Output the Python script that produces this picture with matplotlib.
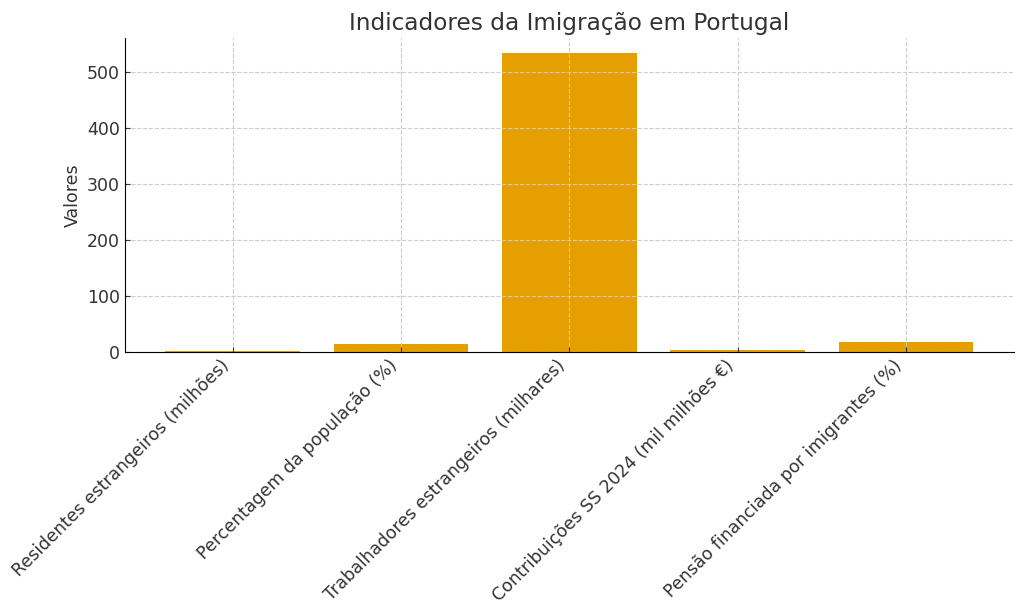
import matplotlib.pyplot as plt

categorias = [
    'Residentes estrangeiros (milhões)',
    'Percentagem da população (%)',
    'Trabalhadores estrangeiros (milhares)',
    'Contribuições SS 2024 (mil milhões €)',
    'Pensão financiada por imigrantes (%)',
]
valores = [1.5, 14.6, 533, 3.6, 18]

plt.rcParams['text.color'] = '#333333'
plt.rcParams['axes.labelcolor'] = '#333333'
plt.rcParams['xtick.color'] = '#333333'
plt.rcParams['ytick.color'] = '#333333'

fig, ax = plt.subplots(figsize=(10.24, 6.16), dpi=100)
ax.bar(categorias, valores, color='#E69F00', width=0.8)
ax.set_title('Indicadores da Imigração em Portugal', fontsize=16.7)
ax.set_ylabel('Valores', fontsize=12.5)
ax.tick_params(axis='both', labelsize=12.5, direction='in')
plt.setp(ax.get_xticklabels(), rotation=45, ha='right')
ax.grid(True, linestyle='--', color='#cccccc', linewidth=0.8)
ax.spines['top'].set_visible(False)
ax.spines['right'].set_visible(False)
fig.subplots_adjust(left=0.122, right=0.99, top=0.938, bottom=0.429)
fig.savefig('out.png')
